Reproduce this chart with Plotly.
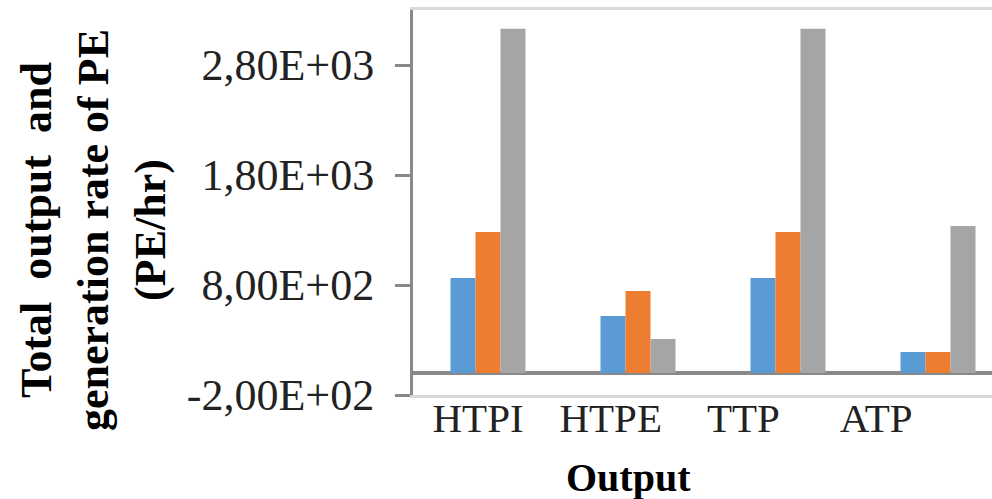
import plotly.graph_objects as go

# Categories and series values (PE/hr)
categories = ["HTPI", "HTPE", "TTP", "ATP"]
series_1 = [864, 518, 864, 191]
series_2 = [1282, 745, 1282, 191]
series_3 = [3130, 309, 3130, 1336]
series_names = ["Series 1", "Series 2", "Series 3"]
series_colors = ["#5B9BD5", "#ED7D31", "#A5A5A5"]

# Y axis ticks, written with a decimal comma
y_tickvals = [-200, 800, 1800, 2800]
y_ticktext = ["-2,00E+02", "8,00E+02", "1,80E+03", "2,80E+03"]

SERIF = "Liberation Serif, Times New Roman, serif"
W, H = 992, 499
M_L, M_R, M_T, M_B = 413, 0, 10, 104
plot_w = W - M_L - M_R
plot_h = H - M_T - M_B

fig = go.Figure()
for name, vals, col in zip(series_names, [series_1, series_2, series_3], series_colors):
    fig.add_trace(go.Bar(
        x=list(range(len(categories))), y=vals, name=name,
        marker=dict(color=col, line=dict(width=0)),
        xaxis="x", yaxis="y",
    ))

# Bars sit on a category slot of 150 px; label axis uses a narrower slot
slot_px = 150
label_slot_px = 132.7

fig.update_layout(
    width=W, height=H,
    margin=dict(l=M_L, r=M_R, t=M_T, b=M_B, pad=0),
    paper_bgcolor="white", plot_bgcolor="white",
    showlegend=False,
    barmode="group", bargap=0.5, bargroupgap=0,
    font=dict(family=SERIF, color="#222222"),
    xaxis=dict(
        range=[-0.5, -0.5 + plot_w / slot_px],
        showticklabels=False, ticks="", showgrid=False, zeroline=False,
        showline=True, linecolor="#D9D9D9", linewidth=3, mirror=True,
    ),
    xaxis2=dict(
        overlaying="x", side="bottom", anchor="y",
        range=[-0.49, -0.49 + plot_w / label_slot_px],
        tickmode="array", tickvals=list(range(len(categories))), ticktext=categories,
        tickfont=dict(family=SERIF, size=41, color="#222222"),
        ticks="", showgrid=False, zeroline=False, showline=False,
        ticklabelstandoff=-5,
    ),
    yaxis=dict(
        range=[-200, 3300],
        tickmode="array", tickvals=y_tickvals, ticktext=y_ticktext,
        tickfont=dict(family=SERIF, size=44, color="#222222"),
        ticks="outside", ticklen=15, tickwidth=3, tickcolor="#898989",
        ticklabelstandoff=12,
        showline=True, linecolor="#898989", linewidth=3,
        showgrid=False,
        zeroline=True, zerolinecolor="#898989", zerolinewidth=4,
    ),
)

# Invisible trace so the label axis is drawn
fig.add_trace(go.Scatter(x=[0], y=[0], xaxis="x2", yaxis="y",
                         mode="markers", marker=dict(opacity=0),
                         hoverinfo="skip", showlegend=False))

# Axis titles
fig.add_annotation(
    text="Total  output  and<br>generation rate of PE<br>(PE/hr)",
    xref="paper", yref="paper",
    x=(93 - M_L) / plot_w, y=(M_T + plot_h - 230) / plot_h,
    xanchor="center", yanchor="middle", textangle=-90, showarrow=False,
    font=dict(family=SERIF, size=44, color="#000000", weight="bold"),
)
fig.add_annotation(
    text="<b>Output</b>",
    xref="paper", yref="paper",
    x=(628 - M_L) / plot_w, y=(M_T + plot_h - 477) / plot_h,
    xanchor="center", yanchor="middle", showarrow=False,
    font=dict(family=SERIF, size=40, color="#000000"),
)

fig.write_html("out.html")
